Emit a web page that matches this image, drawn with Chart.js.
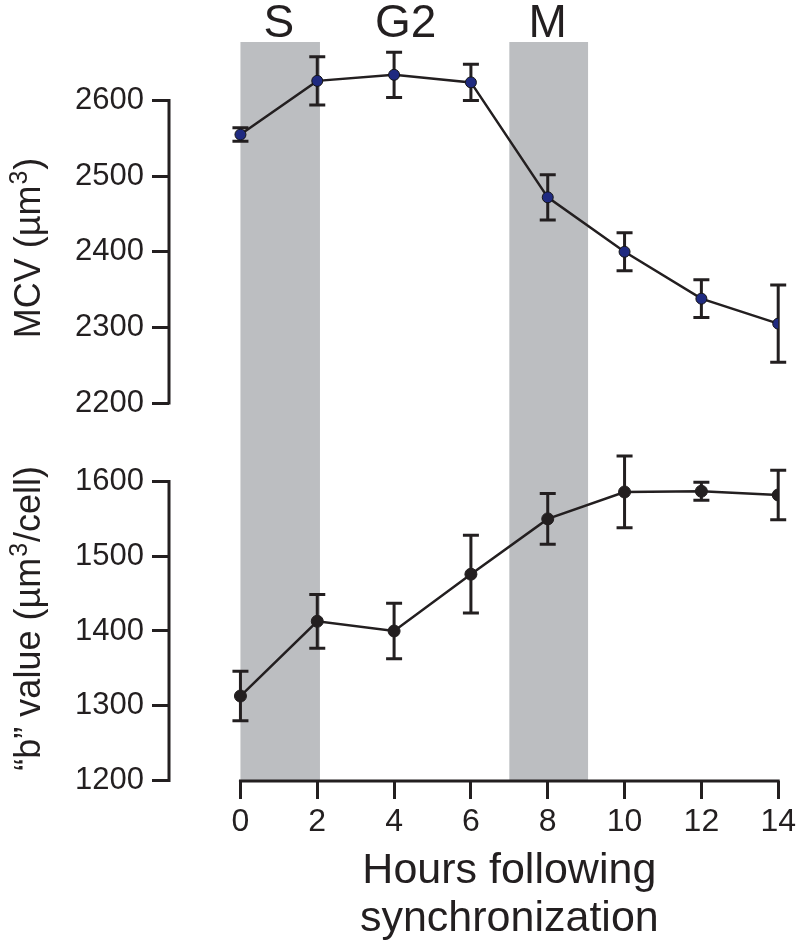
<!DOCTYPE html>
<html>
<head>
<meta charset="utf-8">
<title>MCV et valeur b</title>
<script src="https://cdn.jsdelivr.net/npm/chart.js@4.4.1/dist/chart.umd.min.js"></script>
<style>
  body { margin: 0; background: #fff; }
  #box { position: relative; width: 800px; height: 945px; }
</style>
</head>
<body>
<div id="box"><canvas id="myChart"></canvas></div>
<script>
// <données>
const hours = [0, 2, 4, 6, 8, 10, 12, 14]; // heures après synchronisation
const mcvValues = [2555, 2626, 2634, 2624, 2472, 2400, 2338, 2305]; // MCV (µm³)
const mcvErrors = [9, 32, 30, 24, 30, 25, 25, 51]; // barres d'erreur MCV
const bValues = [1313, 1413, 1400, 1476, 1550, 1586, 1587, 1582]; // valeur "b"
const bErrors = [33, 36, 37, 52, 34, 48, 12, 33]; // barres d'erreur b
const mcvTicks = [2200, 2300, 2400, 2500, 2600]; // graduations panneau haut
const bTicks = [1200, 1300, 1400, 1500, 1600]; // graduations panneau bas
const hourTicks = [0, 2, 4, 6, 8, 10, 12, 14]; // graduations abscisse
const phaseNames = ["S", "G2", "M"]; // phases du cycle
const phaseCenters = [1, 4.3, 8]; // heure où l'on écrit la phase
const bandStarts = [0, 7]; // zones grises (début, en heures)
const bandEnds = [2.07, 9.05]; // zones grises (fin)
const xTitle = ["Hours following", "synchronization"];
const mcvTitle = ["MCV (\u00B5m", "3", ")"]; // texte, exposant, fin
const bTitle = ["\u201Cb\u201D value (\u00B5m", "3", "/cell)"];
// </données>

const FONT = "'Liberation Sans', Arial, Helvetica, sans-serif";
const INK = "#231f20";
Chart.defaults.font.family = FONT;
Chart.defaults.color = INK;

function toPoints(values) {
  // associe chaque valeur à son heure
  return hours.map((h, i) => ({ x: h, y: values[i] }));
}

function keepTicks(values) {
  // force les graduations voulues
  return function (axis) {
    axis.ticks = values.map((v) => ({ value: v }));
  };
}

function yAxis(ticks, min, max, weight) {
  return {
    type: "linear",
    position: "left",
    stack: "panneaux",
    stackWeight: weight,
    bounds: "data",
    min: min,
    max: max,
    afterBuildTicks: keepTicks(ticks),
    afterFit: (s) => { s.width = 169; },
    border: { display: false }, // l'axe est tracé à la main
    grid: { drawOnChartArea: false, tickLength: 17, tickWidth: 3, tickColor: INK },
    ticks: { autoSkip: false, padding: 8, color: INK, font: { size: 31 }, callback: (v) => String(v) },
  };
}

// titre vertical avec exposant
function drawYTitle(ctx, parts, cx, cy) {
  const big = "36px " + FONT;
  const small = "25px " + FONT;
  ctx.font = big;
  const w0 = ctx.measureText(parts[0]).width;
  const w2 = ctx.measureText(parts[2]).width;
  ctx.font = small;
  const w1 = ctx.measureText(parts[1]).width + 2;
  const total = w0 + w1 + w2;
  ctx.save();
  ctx.translate(cx, cy);
  ctx.rotate(-Math.PI / 2);
  ctx.textAlign = "left";
  ctx.textBaseline = "alphabetic";
  let u = -total / 2;
  ctx.font = big;
  ctx.fillText(parts[0], u, 0);
  u += w0;
  ctx.font = small;
  ctx.fillText(parts[1], u + 1, -13);
  u += w1;
  ctx.font = big;
  ctx.fillText(parts[2], u, 0);
  ctx.restore();
}

const data = {
  datasets: [
    {
      label: "MCV",
      data: toPoints(mcvValues),
      errors: mcvErrors,
      yAxisID: "yMcv",
      borderColor: INK,
      borderWidth: 2.5,
      pointRadius: 5.5,
      pointBackgroundColor: "#1f2a80",
      pointBorderColor: "#141414",
      pointBorderWidth: 1,
    },
    {
      label: "b",
      data: toPoints(bValues),
      errors: bErrors,
      yAxisID: "yB",
      borderColor: INK,
      borderWidth: 2.5,
      pointRadius: 6,
      pointBackgroundColor: INK,
      pointBorderColor: INK,
      pointBorderWidth: 1,
    },
  ],
};

// bandes, barres d'erreur, axes et textes
const decor = {
  id: "decor",
  beforeDatasetsDraw(chart) {
    const { ctx, chartArea, scales } = chart;
    ctx.save();
    ctx.fillStyle = "#bcbec1";
    for (let i = 0; i < bandStarts.length; i++) {
      const x1 = scales.x.getPixelForValue(bandStarts[i]);
      const x2 = scales.x.getPixelForValue(bandEnds[i]);
      ctx.fillRect(x1, chartArea.top, x2 - x1, chartArea.bottom - chartArea.top);
    }
    ctx.strokeStyle = INK;
    ctx.lineWidth = 3;
    chart.data.datasets.forEach((ds) => {
      const yScale = scales[ds.yAxisID];
      ds.data.forEach((p, i) => {
        const x = scales.x.getPixelForValue(p.x);
        const top = yScale.getPixelForValue(p.y + ds.errors[i]);
        const bot = yScale.getPixelForValue(p.y - ds.errors[i]);
        ctx.beginPath();
        ctx.moveTo(x, top);
        ctx.lineTo(x, bot);
        ctx.moveTo(x - 8, top);
        ctx.lineTo(x + 8, top);
        ctx.moveTo(x - 8, bot);
        ctx.lineTo(x + 8, bot);
        ctx.stroke();
      });
    });
    ctx.restore();
  },
  afterDatasetsDraw(chart) {
    const { ctx, chartArea, scales } = chart;
    ctx.save();
    ctx.strokeStyle = INK;
    ctx.lineWidth = 3;
    ctx.lineCap = "square";
    const left = chartArea.left;
    const xs = scales.x;
    const yM = scales.yMcv;
    const yB = scales.yB;
    ctx.beginPath();
    // axe MCV
    ctx.moveTo(left, yM.getPixelForValue(mcvTicks[mcvTicks.length - 1]));
    ctx.lineTo(left, yM.getPixelForValue(mcvTicks[0]));
    // axe b
    ctx.moveTo(left, yB.getPixelForValue(bTicks[bTicks.length - 1]));
    ctx.lineTo(left, yB.getPixelForValue(bTicks[0]));
    // axe des heures
    ctx.moveTo(xs.getPixelForValue(hourTicks[0]), chartArea.bottom);
    ctx.lineTo(xs.getPixelForValue(hourTicks[hourTicks.length - 1]), chartArea.bottom);
    ctx.stroke();

    ctx.fillStyle = INK;
    ctx.textAlign = "center";
    ctx.textBaseline = "alphabetic";
    ctx.font = "46px " + FONT;
    phaseNames.forEach((name, i) => {
      ctx.fillText(name, xs.getPixelForValue(phaseCenters[i]), chartArea.top - 5);
    });
    ctx.font = "43px " + FONT;
    const mid = xs.getPixelForValue((hourTicks[0] + hourTicks[hourTicks.length - 1]) / 2);
    xTitle.forEach((line, i) => {
      ctx.fillText(line, mid, chartArea.bottom + 102 + i * 48);
    });

    // titres des ordonnées
    drawYTitle(ctx, mcvTitle, 40, yM.getPixelForValue(2405));
    drawYTitle(ctx, bTitle, 40, yB.getPixelForValue(1417));
    ctx.restore();
  },
};

const config = {
  type: "line",
  data: data,
  plugins: [decor],
  options: {
    responsive: true,
    maintainAspectRatio: false,
    animation: false,
    layout: { padding: { top: 42, right: 20, left: 0, bottom: 0 } },
    plugins: { legend: { display: false }, tooltip: { enabled: false } },
    scales: {
      x: {
        type: "linear",
        min: -1.86,
        max: 14,
        bounds: "data",
        afterBuildTicks: keepTicks(hourTicks),
        afterFit: (s) => { s.height = 164; },
        border: { display: false },
        grid: { drawOnChartArea: false, tickLength: 18, tickWidth: 3, tickColor: INK },
        ticks: { autoSkip: false, maxRotation: 0, padding: 4, color: INK, font: { size: 32 } },
      },
      // l'ordre compte : le dernier axe empilé se place en haut
      yB: yAxis(bTicks, 1199.3, 1650.2, 337),
      yMcv: yAxis(mcvTicks, 2145.8, 2677.4, 402),
    },
  },
};

let context = document.getElementById("myChart").getContext("2d");
let chart = new Chart(context, config);
</script>
</body>
</html>
